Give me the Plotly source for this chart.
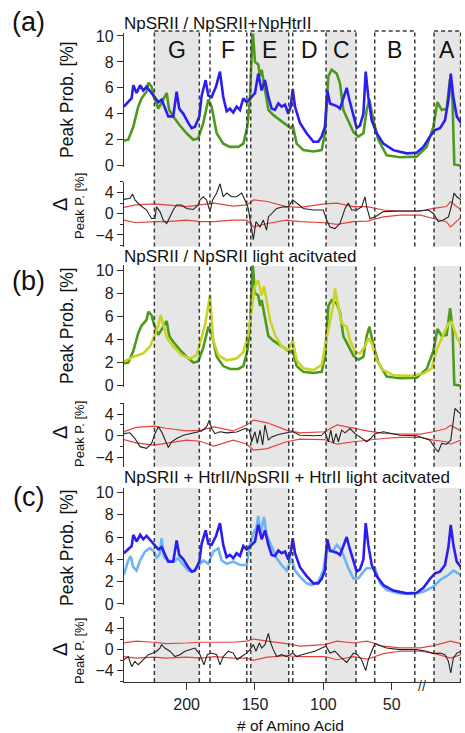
import plotly.graph_objects as go

# ---------------- data ----------------
# NpSRII (dark green)
res_np = [245.9, 242.7, 239, 235.4, 232.9, 229.3, 228, 225.6, 223.9, 220.7, 217.1, 214.6, 212.7, 209.8, 204.9,
          200, 195.1, 191.5, 187.8, 184.1, 181.7, 178, 173.2, 168.3, 162.2, 158.5, 155.6, 153.7, 151.7, 150,
          147.6, 146.3, 145.1, 142.7, 140.2, 136.6, 131.7, 126.8, 123.9, 122.4, 119.5, 114.6, 107.3, 101.2, 98.8,
          96.3, 93.9, 90.2, 87.8, 85.4, 81.7, 78, 74.4, 70.7, 68.3, 66.3, 63.4, 59.8, 53.7, 43.9,
          31.7, 24.4, 19.5, 16.6, 13.4, 9.8, 7.3, 5.5, 4.2, -0.7]
val_np = [1.95, 2.0, 3.0, 4.55, 5.2, 5.7, 6.4, 6.1, 5.3, 4.4, 5.1, 5.6, 4.3, 3.8, 3.1,
          2.5, 2.0, 2.1, 3.3, 5.1, 4.55, 2.5, 1.7, 1.45, 1.45, 1.7, 3.0, 5.1, 10.6, 8.0,
          7.8, 6.9, 7.4, 6.0, 4.3, 3.9, 3.5, 3.1, 2.9, 3.1, 1.7, 1.2, 1.1, 1.2, 2.5,
          6.9, 7.4, 7.1, 6.35, 4.3, 3.5, 2.6, 2.25, 2.5, 4.3, 5.1, 3.5, 2.0, 0.8, 0.65,
          0.7, 1.45, 3.0, 4.9, 4.3, 4.4, 6.7, 5.0, 0.1, 0.0]

# NpSRII + NpHtrII (blue)
res_cx = [245.9, 240.2, 239, 236.6, 234, 231.7, 229.3, 226.3, 223.9, 220.7, 218.3, 215.9, 213.4, 209.8, 207.3,
          205.4, 202.4, 198.8, 196.3, 193.9, 190.7, 189, 186.1, 184.1, 181.7, 178.5, 175.6, 173.2, 170.7, 168.3,
          165.9, 163.4, 161, 158.5, 156.1, 152.4, 150, 147.6, 145.1, 142.7, 140.2, 137.8, 135.4, 132.9, 130.5,
          128, 125.6, 123.9, 122.4, 120.7, 117.1, 112.2, 107.3, 103.7, 101.2, 98.8, 97.1, 95.1, 92.7, 90.2,
          87.8, 85.4, 82.9, 81, 78, 75.6, 73.2, 70.7, 69, 67.1, 64.6, 61, 56.1, 48.8, 39,
          31.7, 26.8, 22, 18.3, 14.6, 11, 8.5, 6.8, 4.9, 2.4, -0.7]
val_cx = [4.55, 5.2, 6.2, 5.6, 6.2, 5.8, 6.1, 5.7, 5.3, 4.9, 5.1, 4.4, 3.8, 3.8, 5.7,
          4.4, 4.0, 3.3, 2.9, 3.0, 3.8, 5.4, 6.6, 5.4, 5.3, 6.1, 7.25, 5.3, 4.2, 4.4,
          4.1, 4.55, 4.3, 5.2, 4.9, 5.3, 5.6, 7.1, 5.8, 6.6, 5.3, 4.4, 4.3, 4.8, 4.55,
          4.7, 4.0, 4.55, 5.9, 4.55, 3.3, 2.5, 1.85, 1.85, 2.25, 3.0, 5.8, 4.8, 4.7, 4.6,
          4.4, 5.1, 6.0, 5.1, 3.8, 2.9, 3.1, 4.0, 7.25, 5.3, 3.5, 2.5, 1.7, 1.2, 0.95,
          1.0, 1.45, 2.25, 2.75, 2.9, 3.5, 5.1, 7.1, 5.3, 3.8, 3.3]

# NpSRII light activated (yellow-green)
res_la = [245.9, 239, 231.7, 226.8, 223.2, 220.7, 219, 217.1, 214.6, 209.8, 203.7, 197.6, 192.7, 190.2, 186.6,
          182.9, 180.5, 176.8, 170.7, 163.4, 158.5, 154.9, 152.4, 150, 147.6, 145.1, 143.4, 141.5, 139, 135.4,
          130.5, 125.6, 122.4, 119.5, 114.6, 107.3, 101.2, 98.8, 94.9, 92.7, 91.5, 89, 86.6, 82.9, 80.5,
          76.8, 73.2, 69.5, 67.1, 64.6, 61, 56.1, 48.8, 36.6, 26.8, 20.7, 17.1, 13.4, 8.5, 6.1, 2.4, -0.7]
val_la = [2.1, 2.5, 2.8, 3.4, 4.4, 5.2, 6.1, 5.2, 4.2, 3.4, 2.65, 2.35, 2.65, 3.7, 5.2,
          7.8, 3.9, 2.65, 2.2, 2.35, 2.9, 4.5, 6.5, 8.6, 9.1, 7.8, 8.6, 7.4, 5.7, 4.4,
          3.4, 3.1, 3.9, 2.2, 1.5, 1.35, 1.8, 3.4, 5.7, 7.0, 8.4, 6.8, 5.4, 5.1, 3.9,
          2.9, 2.8, 3.4, 4.1, 3.7, 2.2, 1.35, 0.9, 0.85, 1.05, 1.5, 3.1, 4.1, 5.4, 5.5, 4.2, 3.5]

# NpSRII + HtrII light activated (light blue)
res_cl = [245.9, 242.7, 241, 239, 236.6, 234.1, 230.5, 226.8, 223.9, 222, 219.5, 218.3, 216.6, 213.4, 209.8,
          206.1, 202.4, 198.8, 195.1, 191.5, 187.8, 184.1, 180.5, 176.8, 174.4, 170.7, 165.9, 161, 156.1, 153.7,
          151.2, 148.8, 147.6, 145.9, 143.4, 141.5, 137.8, 134.1, 130.5, 126.8, 123.2, 120.7, 117.1, 112.2, 108.5,
          103.7, 100, 97.6, 95.1, 92.7, 90.2, 87.8, 85.4, 81.7, 78, 74.4, 70.7, 68.3, 64.6, 62.2,
          58.5, 53.7, 43.9, 34.1, 26.8, 19.5, 14.6, 8.5, 4.9, -0.7]
val_cl = [2.6, 3.9, 4.3, 3.3, 3.0, 3.9, 4.7, 5.0, 4.7, 4.1, 4.5, 5.9, 4.2, 3.9, 3.8,
          4.1, 3.5, 3.0, 2.9, 3.4, 3.9, 3.6, 4.7, 5.0, 3.9, 3.6, 3.8, 3.5, 3.5, 5.3,
          6.3, 6.9, 7.9, 6.3, 7.8, 6.2, 5.1, 4.1, 3.5, 3.0, 4.1, 3.0, 2.45, 1.85, 1.7,
          2.0, 3.0, 5.1, 4.7, 4.8, 5.3, 5.0, 4.4, 3.2, 2.3, 2.3, 2.9, 3.2, 3.2, 3.2,
          1.85, 1.25, 0.95, 0.9, 1.1, 1.55, 2.15, 2.6, 3.0, 2.6]

# Delta peak probabilities (black)
res_da = [245.9, 241.5, 239.5, 237.8, 234.1, 229.3, 225.6, 223.2, 222, 219.5, 217.1, 214.6, 212.2, 209.8, 207.3,
          203.7, 200, 195.1, 191.5, 190.2, 187.8, 185.4, 182.9, 181, 178, 175.6, 173.2, 170.7, 167.1, 163.4,
          159.8, 157.3, 154.9, 152.4, 151.2, 149.3, 146.3, 143.9, 141.5, 140.2, 137.8, 134.1, 129.3, 125.6, 122.4,
          119.5, 114.6, 107.3, 100, 97.6, 95.1, 91.5, 87.8, 84.1, 81.7, 79.3, 75.6, 72, 69.5, 68.3,
          65.9, 62.2, 56.1, 43.9, 31.7, 23.2, 19.5, 15.9, 12.2, 8.5, 6.1, 4.4, 2.4, -0.7]
val_da = [2.7, 2.9, 3.7, 2.6, 1.65, 0.7, -0.9, -0.9, 1.3, 0.4, -1.2, -1.85, -0.6, 0.7, 1.65,
          1.65, 1.0, 0.8, 1.65, 2.6, 3.2, 2.6, 0.4, 2.6, 3.9, 5.65, 3.2, 3.9, 3.2, 3.2,
          3.9, 2.6, 1.0, -3.1, -4.9, -1.5, -2.5, -1.2, -3.1, -0.6, 0.05, 1.0, 1.3, 1.3, 2.6,
          2.0, 1.0, 0.7, 0.7, -1.2, -2.5, -2.8, -1.85, 1.0, 2.0, 0.7, 0.7, 1.3, 3.2, 1.3,
          -0.9, -0.6, 0.4, 0.5, 0.5, 0.7, 0.05, -1.5, -1.2, -0.6, 1.65, 3.9, 3.2, 2.6]

res_db = [245.9, 241.5, 237.8, 234.1, 229.3, 225.6, 223.2, 220.7, 218.3, 215.9, 213.4, 211, 207.3, 202.4, 197.6,
          192.7, 189, 185.4, 183.4, 181.7, 179.3, 175.6, 170.7, 163.4, 157.3, 154.1, 152.4, 150, 148.3, 146.3,
          144.4, 142.7, 140.2, 137.8, 132.9, 126.8, 122.4, 117.1, 107.3, 101.2, 98.8, 96.3, 94.6, 92.7, 90.7,
          89, 86.6, 84.1, 80.5, 76.8, 72, 68.3, 65.4, 62.2, 56.1, 43.9, 31.7, 22, 18.3, 15.9,
          13.4, 9.8, 6.8, 3.7, 1.2, -0.7]
val_db = [0.4, 0.55, -0.5, -2.0, -2.3, -1.4, 0.4, 1.65, 0.75, -0.8, -2.15, -1.1, -0.5, 0.1, 0.4,
          0.6, 0.9, 1.65, 2.9, 1.35, 0.4, 0.75, 0.55, 0.7, 1.35, 1.05, -1.1, 0.75, -1.4, 1.05,
          -1.7, 2.0, -0.8, -0.2, 0.25, 0.55, 0.75, 0.1, 0, 0.1, 0.75, -1.1, 1.05, -1.4, 0.4,
          -1.1, 1.05, 0.55, 1.35, 0.4, -0.5, -1.1, -0.5, 0.4, 0.75, 0.1, 0, -0.8, -2.3, -2.95,
          -1.4, -1.55, -0.8, 5.05, 4.4, 4.1]

res_dc = [245.9, 242.7, 240.2, 237.8, 235.4, 231.7, 228, 224.4, 222, 219.5, 218.3, 215.9, 212.2, 208.5, 204.9,
          201.2, 197.6, 193.9, 190.2, 187.3, 184.9, 181.7, 178, 175.6, 173.2, 169.5, 165.9, 163, 159.8, 156.1,
          153.7, 151.2, 149.3, 146.8, 145.1, 142.7, 140.2, 138.5, 136.6, 134.1, 130.5, 126.8, 122.4, 119.5, 115.9,
          111, 106.1, 101.2, 98, 95.1, 91.5, 87.8, 82.9, 80.5, 78, 75.1, 72, 69, 67.1, 64.6,
          62.2, 58.5, 53.7, 43.9, 31.7, 24.4, 19.5, 14.6, 11, 8.5, 6.8, 4.9, 2.4, -0.7]
val_dc = [-1.9, -1.3, -3.2, -2.2, -2.85, -1.9, -0.95, -0.65, -0.3, 0.3, 0.95, 0.3, -0.3, -1.3, -0.95,
          -0.3, 0, 0.3, -0.95, -2.85, -0.95, -0.65, -0.95, -2.85, -1.3, -0.3, -0.65, -1.9, -1.3, -0.65,
          0, 0.95, -0.3, 1.25, 0.3, 0.95, 3.05, 1.25, 0, -1.3, -0.95, -1.3, -0.65, -1.3, -0.95,
          -0.65, -0.3, 0.3, 0.65, -0.65, -0.3, -1.3, -2.4, -1.6, -0.65, -0.95, -1.9, -3.95, -1.9, -0.3,
          1.15, 0.75, 0.3, 0, 0, -0.3, -0.75, -0.65, -0.95, -2.2, -4.4, -1.6, -0.65, -0.3]

# Significance envelopes (red)
res_band = [246, 237, 224, 215, 200, 190, 180, 166, 156, 151, 141, 127, 117, 99, 90, 78, 68, 56, 44, 29,
            19.5, 10, 7, -0.7]
a_up = [1.2, 1.65, 1.85, 1.65, 1.35, 1.65, 2.0, 1.45, 1.65, 2.6, 2.3, 1.35, 1.2, 1.85, 2.0, 1.35, 1.35, 0.7,
        0.5, 0.5, 1.0, 1.35, 2.3, 0.7]
a_lo = [-1.2, -1.7, -1.5, -1.5, -1.2, -1.5, -1.5, -1.2, -1.2, -2.5, -1.85, -1.2, -1.5, -1.7, -2.0, -1.5, -1.4,
        -0.6, -0.25, -0.25, -0.9, -1.5, -2.5, -0.7]
b_up = [0.75, 1.55, 1.8, 1.4, 0.9, 1.0, 1.65, 0.9, 2.0, 2.9, 2.4, 1.05, 0.55, 0.75, 2.0, 1.35, 0.9, 0.45, 0.3,
        0.3, 0.75, 1.35, 1.95, 0.9]
b_lo = [-0.7, -1.3, -1.7, -1.4, -0.8, -1.0, -1.9, -0.8, -1.5, -2.65, -2.35, -1.1, -0.6, -0.7, -1.55, -1.1, -0.8,
        -0.5, -0.3, -0.3, -0.8, -1.1, -1.55, -0.8]
c_up = [1.25, 1.6, 1.4, 1.15, 1.25, 1.4, 1.4, 1.4, 1.6, 2.0, 1.6, 1.15, 0.65, 0.95, 1.6, 1.25, 1.6, 0.65, 0.35,
        0.35, 0.75, 1.35, 1.6, 1.15]
c_lo = [-1.3, -1.6, -1.4, -1.6, -1.4, -1.6, -1.3, -1.6, -1.6, -2.0, -1.4, -1.15, -1.3, -1.3, -1.9, -1.3, -1.8,
        -0.75, -0.3, -0.3, -0.65, -1.3, -1.6, -0.95]

# Helix boundaries
helix_names = ["G", "F", "E", "D", "C", "B", "A"]
helix_start = [223.6, 182.9, 153.1, 122.4, 98.0, 62.4, 19.0]
helix_end = [190.7, 156.0, 125.3, 98.0, 76.1, 33.1, -0.4]
shaded = ["G", "E", "C", "A"]
dash_pos = [223.6, 190.7, 182.9, 156.0, 153.1, 125.3, 122.4, 98.0, 76.1, 62.4, 33.1, 19.0, -0.4]

x_ticks = [200, 150, 100, 50]
x_title = "# of Amino Acid"
titles = ["NpSRII / NpSRII+NpHtrII", "NpSRII / NpSRII light acitvated",
          "NpSRII + HtrII/NpSRII + HtrII light acitvated"]
panel_labels = ["(a)", "(b)", "(c)"]

# ---------------- layout helpers ----------------
W, H = 465, 733
ML, MR, MT, MB = 124, 4, 20, 51
PW, PH = W - ML - MR, H - MT - MB


def px_x(px):
    return (px - ML) / PW


def px_y(py):
    return (H - MB - py) / PH


GREEN = "#4e9a1c"
BLUE = "#2b1ef0"
YELLOW = "#c9d524"
LBLUE = "#6cb4f4"
RED = "#e8413c"
BLACK = "#222222"
AX = "#333333"
DASHC = "#3a3a3a"
DASH = "4px,3px"
FONT = "Liberation Sans, Arial, sans-serif"

fig = go.Figure()


def line(x, y, ya, color, width):
    fig.add_trace(go.Scatter(x=x, y=y, xaxis="x", yaxis=ya, mode="lines",
                             line=dict(color=color, width=width), showlegend=False, hoverinfo="skip"))


# panel a
line(res_np, val_np, "y", GREEN, 2.6)
line(res_cx, val_cx, "y", BLUE, 2.6)
line(res_band, a_up, "y2", RED, 1.2)
line(res_band, a_lo, "y2", RED, 1.2)
line(res_da, val_da, "y2", BLACK, 1.1)
# panel b
line(res_np, val_np, "y3", GREEN, 2.6)
line(res_la, val_la, "y3", YELLOW, 2.6)
line(res_band, b_up, "y4", RED, 1.2)
line(res_band, b_lo, "y4", RED, 1.2)
line(res_db, val_db, "y4", BLACK, 1.1)
# panel c
line(res_cl, val_cl, "y5", LBLUE, 2.6)
line(res_cx, val_cx, "y5", BLUE, 2.6)
line(res_band, c_up, "y6", RED, 1.2)
line(res_band, c_lo, "y6", RED, 1.2)
line(res_dc, val_dc, "y6", BLACK, 1.1)

# pixel geometry of the six y axes: (top px, bottom px, range)
axes_geo = [
    (33.4, 167.0, [-0.1, 10.2], [0, 2, 4, 6, 8, 10], False),
    (181.9, 246.6, [-6.2, 6.0], [-4, 0, 4], True),
    (265.4, 386.9, [-0.1, 10.4], [0, 2, 4, 6, 8, 10], False),
    (403.3, 466.7, [-5.7, 6.0], [-4, 0, 4], True),
    (488.0, 605.1, [-0.1, 10.4], [0, 2, 4, 6, 8, 10], False),
    (617.3, 682.0, [-6.1, 6.1], [-4, 0, 4], True),
]
layout_axes = {}
for i, (top, bot, rng, tv, minor) in enumerate(axes_geo):
    name = "yaxis" if i == 0 else f"yaxis{i + 1}"
    ax = dict(domain=[max(0, px_y(bot)), min(1, px_y(top))], range=rng, anchor="x",
              showline=True, linecolor=AX, linewidth=1.3, ticks="outside", ticklen=6,
              tickwidth=1.3, tickcolor=AX, tickvals=tv, showgrid=False, zeroline=False,
              tickfont=dict(size=16, color="#222", family=FONT), fixedrange=True)
    if minor:
        ax["minor"] = dict(tickvals=[-6, -2, 2, 6], ticklen=3, tickcolor=AX, ticks="outside")
    layout_axes[name] = ax

shapes = []
panel_span = [(31.0, 246.6), (266.0, 466.7), (488.0, 682.0)]
for (ptop, pbot) in panel_span:
    y0, y1 = px_y(pbot), px_y(ptop)
    for nm, s, e in zip(helix_names, helix_start, helix_end):
        if nm in shaded:
            shapes.append(dict(type="rect", xref="x", yref="paper", x0=s, x1=e, y0=y0, y1=y1,
                               fillcolor="#e6e6e6", line=dict(width=0), layer="below"))
    for d in dash_pos:
        shapes.append(dict(type="line", xref="x", yref="paper", x0=d, x1=d, y0=y0, y1=y1,
                           line=dict(color=DASHC, width=1.5, dash=DASH), layer="above"))

# box tops in panel a
ytop = px_y(31.0)
for s, e in zip(helix_start, helix_end):
    shapes.append(dict(type="line", xref="x", yref="paper", x0=s, x1=e, y0=ytop, y1=ytop,
                       line=dict(color=DASHC, width=1.5, dash=DASH)))

annotations = []
# helix letters
for nm, s, e in zip(helix_names, helix_start, helix_end):
    annotations.append(dict(x=(s + e) / 2, y=px_y(50), xref="x", yref="paper", text=nm, showarrow=False,
                            font=dict(size=23, family=FONT, color="#111"), xanchor="center", yanchor="middle"))

# panel labels and titles
lab_py = [22.5, 281, 497]
tit_py = [24, 256, 477]
for lab, lp, tt, tp in zip(panel_labels, lab_py, titles, tit_py):
    annotations.append(dict(x=px_x(28), y=px_y(lp), xref="paper", yref="paper", text=lab, showarrow=False,
                            font=dict(size=27, family=FONT, color="#111"), xanchor="center", yanchor="middle"))
    annotations.append(dict(x=px_x(122), y=px_y(tp), xref="paper", yref="paper", text=tt, showarrow=False,
                            font=dict(size=17, family=FONT, color="#111"), xanchor="left", yanchor="middle"))

# y titles
main_cy = [100, 326, 548]
delta_cy = [205, 433, 650]
for mc, dc in zip(main_cy, delta_cy):
    annotations.append(dict(x=px_x(67), y=px_y(mc), xref="paper", yref="paper", text="Peak Prob. [%]",
                            textangle=-90, showarrow=False, font=dict(size=17.5, family=FONT, color="#111"),
                            xanchor="center", yanchor="middle"))
    annotations.append(dict(x=px_x(60), y=px_y(dc), xref="paper", yref="paper", text="Δ",
                            textangle=-90, showarrow=False, font=dict(size=20, family=FONT, color="#111"),
                            xanchor="center", yanchor="middle"))
    annotations.append(dict(x=px_x(79), y=px_y(dc + 1), xref="paper", yref="paper", text="Peak P. [%]",
                            textangle=-90, showarrow=False, font=dict(size=13, family=FONT, color="#111"),
                            xanchor="center", yanchor="middle"))

# x-axis title (placed as annotation to keep the plot area fixed)
annotations.append(dict(x=px_x(290), y=px_y(725), xref="paper", yref="paper", text=x_title, showarrow=False,
                        font=dict(size=15.5, family=FONT, color="#111"), xanchor="center", yanchor="middle"))

# axis break marks
annotations.append(dict(x=28, y=px_y(686), xref="x", yref="paper", text="//", showarrow=False,
                        font=dict(size=14, family=FONT, color="#333"), xanchor="center", yanchor="middle"))

fig.update_layout(
    width=W, height=H, margin=dict(l=ML, r=MR, t=MT, b=MB, autoexpand=False),
    paper_bgcolor="white", plot_bgcolor="white", showlegend=False,
    font=dict(family=FONT, color="#111"),
    xaxis=dict(domain=[0, 1], range=[245.8, -0.7], anchor="y6", showline=True, linecolor=AX, linewidth=1.3,
               ticks="outside", ticklen=7, tickwidth=1.3, tickcolor=AX, tickvals=x_ticks, showgrid=False,
               zeroline=False, tickfont=dict(size=16, family=FONT, color="#222"), ticklabelstandoff=1,
               automargin=False, fixedrange=True),
    shapes=shapes, annotations=annotations, **layout_axes,
)

fig.write_html("out.html", config={"displayModeBar": False},
               post_script="document.body.style.margin='0';document.body.style.overflow='hidden';")
